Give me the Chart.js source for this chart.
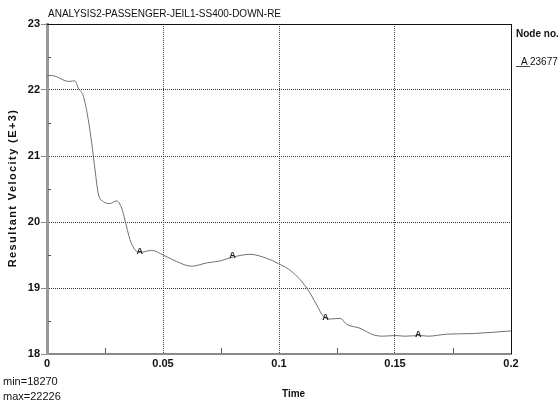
<!DOCTYPE html>
<html>
<head>
<meta charset="utf-8">
<title>Resultant Velocity</title>
<script src="https://cdn.jsdelivr.net/npm/chart.js@4/dist/chart.umd.min.js"></script>
<style>
  html, body { margin: 0; padding: 0; background: #fff; }
  #wrap { position: relative; width: 558px; height: 407px; }
</style>
</head>
<body>
<div id="wrap"><canvas id="velocityChart" width="558" height="407"></canvas></div>
<script>
// ---- data ----
const timeValues = [
  0, 0.002, 0.0042, 0.006, 0.0078, 0.0099, 0.012, 0.0135, 0.0157, 0.0178,
  0.0193, 0.0207, 0.0221, 0.0243, 0.0272, 0.030, 0.0322, 0.0336, 0.0358, 0.0379,
  0.0401, 0.0451, 0.0501, 0.0559, 0.0623, 0.0688, 0.0746, 0.0803, 0.0875, 0.0947,
  0.0997, 0.1055, 0.112, 0.1163, 0.1191, 0.122, 0.1263, 0.1292, 0.1349, 0.1407,
  0.145, 0.150, 0.1543, 0.1608, 0.1643, 0.1722, 0.1837, 0.200
];
const velocityValues = [
  22.22, 22.22, 22.20, 22.17, 22.14, 22.13, 22.14, 22.03, 21.90, 21.55,
  21.19, 20.79, 20.43, 20.31, 20.28, 20.32, 20.21, 20.03, 19.73, 19.58,
  19.54, 19.57, 19.50, 19.40, 19.33, 19.38, 19.41, 19.47, 19.51, 19.45,
  19.37, 19.25, 19.00, 18.74, 18.57, 18.53, 18.54, 18.45, 18.39, 18.29,
  18.27, 18.28, 18.27, 18.28, 18.27, 18.30, 18.31, 18.35
];
// node marker "A" positions along the curve
const markerTimes = [0.04, 0.08, 0.12, 0.16];
const markerValues = [19.54, 19.47, 18.54, 18.28];
const markerLabel = 'A';

const xTicks = [0, 0.05, 0.1, 0.15, 0.2];
const xMinorTicks = [0.025, 0.075, 0.125, 0.175];
const yTicks = [18, 19, 20, 21, 22, 23];
const yMinorTicks = [18.5, 19.5, 20.5, 21.5, 22.5];

const chartTitle = 'ANALYSIS2-PASSENGER-JEIL1-SS400-DOWN-RE';
const yTitle = 'Resultant Velocity (E+3)';
const xTitle = 'Time';
const nodeHeading = 'Node no.';
const nodeId = '23677';
const minText = 'min=18270';
const maxText = 'max=22226';

// ---- layout constants ----
const FONT = '"Liberation Sans", Arial, sans-serif';
const PLOT_LEFT = 47;
const PLOT_RIGHT = 511;
const PLOT_TOP = 24;
const PLOT_BOTTOM = 354;
const W = 558, H = 407;

// Draws frame, minor ticks, the "A" markers and all the loose text
const decorations = {
  id: 'decorations',
  afterDraw(chart) {
    const { ctx, chartArea: a, scales } = chart;
    const xs = scales.x, ys = scales.y;
    ctx.save();

    // black top + right frame
    ctx.strokeStyle = '#111';
    ctx.lineWidth = 1;
    ctx.beginPath();
    ctx.moveTo(a.left, a.top + 0.5);
    ctx.lineTo(a.right + 0.5, a.top + 0.5);
    ctx.lineTo(a.right + 0.5, a.bottom);
    ctx.stroke();

    // minor ticks
    ctx.strokeStyle = '#555';
    ctx.beginPath();
    yMinorTicks.forEach((v) => {
      const y = Math.round(ys.getPixelForValue(v)) + 0.5;
      ctx.moveTo(a.left + 1, y);
      ctx.lineTo(a.left + 4, y);
    });
    xMinorTicks.forEach((v) => {
      const x = Math.round(xs.getPixelForValue(v)) + 0.5;
      ctx.moveTo(x, a.bottom - 1);
      ctx.lineTo(x, a.bottom - 6);
    });
    ctx.stroke();

    // "A" node markers
    const meta = chart.getDatasetMeta(1);
    ctx.fillStyle = '#222';
    ctx.font = 'bold 9px ' + FONT;
    ctx.textAlign = 'center';
    ctx.textBaseline = 'middle';
    meta.data.forEach((pt) => {
      ctx.fillText(markerLabel, pt.x, pt.y - 1);
    });

    // title
    ctx.fillStyle = '#111';
    ctx.textAlign = 'left';
    ctx.textBaseline = 'alphabetic';
    ctx.font = '10px ' + FONT;
    ctx.fillText(chartTitle, 48, 17);

    // y axis title, rotated
    ctx.save();
    ctx.translate(16, 188);
    ctx.rotate(-Math.PI / 2);
    ctx.font = 'bold 11px ' + FONT;
    ctx.letterSpacing = '1.4px';
    ctx.textAlign = 'center';
    ctx.fillText(yTitle, 0, 0);
    ctx.restore();

    // x axis title
    ctx.font = 'bold 10px ' + FONT;
    ctx.textAlign = 'left';
    ctx.fillText(xTitle, 282, 397);

    // min / max
    ctx.font = '11px ' + FONT;
    ctx.fillText(minText, 3, 385);
    ctx.fillText(maxText, 3, 400);

    // node legend: underscored marker letter, then node id
    ctx.font = 'bold 10px ' + FONT;
    ctx.fillText(nodeHeading, 516, 37);
    ctx.font = '10px ' + FONT;
    ctx.fillText(markerLabel, 521, 65);
    ctx.fillText(nodeId, 530, 65);
    ctx.strokeStyle = '#444';
    ctx.beginPath();
    ctx.moveTo(516, 66.5);
    ctx.lineTo(530, 66.5);
    ctx.stroke();

    ctx.restore();
  },
};

const linePoints = timeValues.map((t, i) => ({ x: t, y: velocityValues[i] }));
const markerPoints = markerTimes.map((t, i) => ({ x: t, y: markerValues[i] }));

new Chart(document.getElementById('velocityChart'), {
  type: 'line',
  data: {
    datasets: [
      {
        data: linePoints,
        borderColor: '#707070',
        borderWidth: 1,
        pointRadius: 0,
        cubicInterpolationMode: 'monotone',
        fill: false,
      },
      {
        data: markerPoints,
        showLine: false,
        pointRadius: 0,
        borderColor: 'transparent',
      },
    ],
  },
  options: {
    responsive: false,
    animation: false,
    events: [],
    layout: { padding: { left: 0, top: PLOT_TOP, right: W - PLOT_RIGHT, bottom: 0 } },
    plugins: {
      legend: { display: false },
      tooltip: { enabled: false },
    },
    scales: {
      x: {
        type: 'linear',
        min: 0,
        max: 0.2,
        afterBuildTicks(scale) {
          scale.ticks = xTicks.map((v) => ({ value: v }));
        },
        afterFit(scale) {
          scale.height = H - PLOT_BOTTOM;
        },
        ticks: {
          color: '#111',
          font: { family: FONT, size: 11, weight: 'bold' },
          padding: 3,
          maxRotation: 0,
          autoSkip: false,
          callback: (v) => String(v),
        },
        grid: {
          color: '#444',
          drawTicks: false,
          lineWidth: 1,
        },
        border: { color: '#8a8a8a', width: 2, dash: [1, 1] },
      },
      y: {
        min: 18,
        max: 23,
        afterBuildTicks(scale) {
          scale.ticks = yTicks.map((v) => ({ value: v }));
        },
        afterFit(scale) {
          scale.width = PLOT_LEFT;
        },
        ticks: {
          color: '#111',
          font: { family: FONT, size: 11, weight: 'bold' },
          padding: 1,
          autoSkip: false,
        },
        grid: {
          color: '#333',
          tickColor: '#888',
          tickLength: 6,
          lineWidth: 1,
        },
        border: { color: '#999', width: 3, dash: [1, 1] },
      },
    },
  },
  plugins: [decorations],
});
</script>
</body>
</html>
